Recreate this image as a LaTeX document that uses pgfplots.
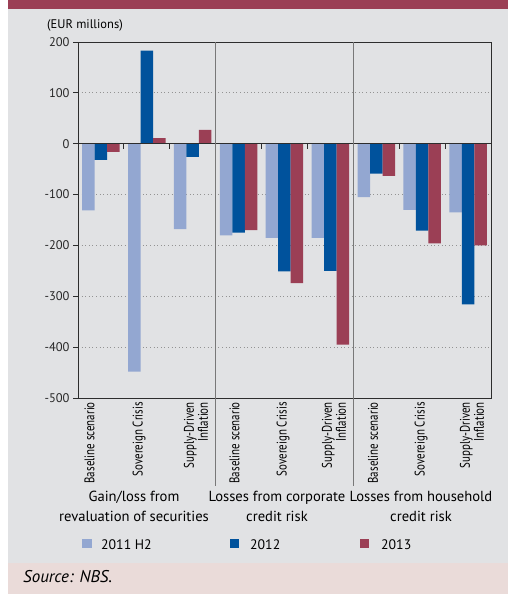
\documentclass[border=0pt]{standalone}
\usepackage{fontspec}
\setmainfont{PT Sans}
\newfontfamily\condfont[FakeStretch=0.78]{PT Sans}
\usepackage{pgfplots}
\pgfplotsset{compat=1.18}
\definecolor{lb}{RGB}{147,167,209}
\definecolor{db}{RGB}{0,82,156}
\definecolor{rd}{RGB}{155,63,85}
\definecolor{bg}{RGB}{225,226,228}
\definecolor{pk}{RGB}{234,219,217}
\definecolor{sep}{RGB}{120,120,120}
\definecolor{ax}{RGB}{45,45,45}
\begin{document}
\begin{tikzpicture}[x=1pt,y=1pt]
\useasboundingbox (0,0) rectangle (508,594);
\fill[white] (0,0) rectangle (508,594);
\fill[bg] (8,31) rectangle (508,584.5);
\fill[rd] (8,584.5) rectangle (508,594);
\fill[pk] (8,0) rectangle (508,31);
\begin{axis}[
 at={(78pt,196pt)}, anchor=south west,
 width=413pt, height=356pt, scale only axis,
 xmin=-0.5, xmax=8.5, ymin=-500, ymax=200,
 xtick=\empty,
 ytick={-500,-400,-300,-200,-100,0,100,200},
 yticklabels={-500,-400,-300,-200,-100,0,100,200},
 ytick pos=left, tick align=outside, major tick length=5pt,
 tick style={ax, line width=0.9pt},
 axis line style={ax, line width=0.9pt},
 yticklabel style={font=\fontsize{12.5}{12.5}\selectfont, text=black!85},
 ymajorgrids, grid style={sep!80, line width=0.8pt, dash pattern=on 1pt off 2.6pt},
 axis background/.style={fill=bg},
 clip=false,
 ybar, bar width=12.5pt,
]
\addplot[fill=lb, draw=none, bar shift=-12.5pt] coordinates {(0,-131) (1,-448) (2,-168) (3,-180) (4,-185) (5,-185) (6,-105) (7,-130) (8,-135)};
\addplot[fill=db, draw=none, bar shift=0pt] coordinates {(0,-32) (1,183) (2,-26) (3,-175) (4,-251) (5,-250) (6,-59) (7,-171) (8,-316)};
\addplot[fill=rd, draw=none, bar shift=12.5pt] coordinates {(0,-16) (1,11) (2,27) (3,-170) (4,-274) (5,-395) (6,-63) (7,-196) (8,-200)};
\draw[ax, line width=1.2pt] (axis cs:-0.5,0) -- (axis cs:8.5,0);
\pgfplotsinvokeforeach{0.5,1.5,3.5,4.5,6.5,7.5}{\draw[ax, line width=0.9pt] (axis cs:#1,0) -- ([yshift=-5pt]axis cs:#1,0);}
\draw[sep, line width=1.6pt] (axis cs:2.5,200) -- ([yshift=-88pt]axis cs:2.5,-500);
\draw[sep, line width=1.6pt] (axis cs:5.5,200) -- ([yshift=-88pt]axis cs:5.5,-500);
\end{axis}
% category labels
\tikzset{cl/.style={rotate=90, anchor=east, align=right, inner sep=0pt, font=\condfont\fontsize{14}{11.5}\selectfont}}
\node[cl] at (89.5,192) {Baseline scenario};
\node[cl] at (139,192) {Sovereign Crisis};
\node[cl] at (196,192) {Supply-Driven\\Inflation};
\node[cl] at (234.5,192) {Baseline scenario};
\node[cl] at (283,192) {Sovereign Crisis};
\node[cl] at (334,192) {Supply-Driven\\Inflation};
\node[cl] at (373,192) {Baseline scenario};
\node[cl] at (421,192) {Sovereign Crisis};
\node[cl] at (472,192) {Supply-Driven\\Inflation};
% group labels
\tikzset{gl/.style={anchor=base, inner sep=0pt, font=\fontsize{14.6}{14.6}\selectfont}}
\node[gl] at (134,92.3) {Gain/loss from};
\node[gl] at (134,72.3) {revaluation of securities};
\node[gl] at (277,92.3) {Losses from corporate};
\node[gl] at (277,72.3) {credit risk};
\node[gl] at (421,92.3) {Losses from household};
\node[gl] at (421,72.3) {credit risk};
% legend
\fill[lb] (82.3,45.7) rectangle ++(9.4,9);
\fill[db] (230,45.7) rectangle ++(9.4,9);
\fill[rd] (360,45.7) rectangle ++(9.4,9);
\tikzset{lg/.style={anchor=base west, inner sep=0pt, font=\fontsize{13.8}{13.8}\selectfont}}
\node[lg] at (101,44.7) {2011 H2};
\node[lg] at (250,44.7) {2012};
\node[lg] at (381,44.7) {2013};
% unit and source
\node[anchor=base west, inner sep=0pt, font=\fontsize{12.5}{12.5}\selectfont] at (47,565.5) {(EUR millions)};
\node[anchor=base west, inner sep=0pt, font=\itshape\fontsize{17}{17}\selectfont] at (23,12) {Source: NBS.};
\end{tikzpicture}
\end{document}
